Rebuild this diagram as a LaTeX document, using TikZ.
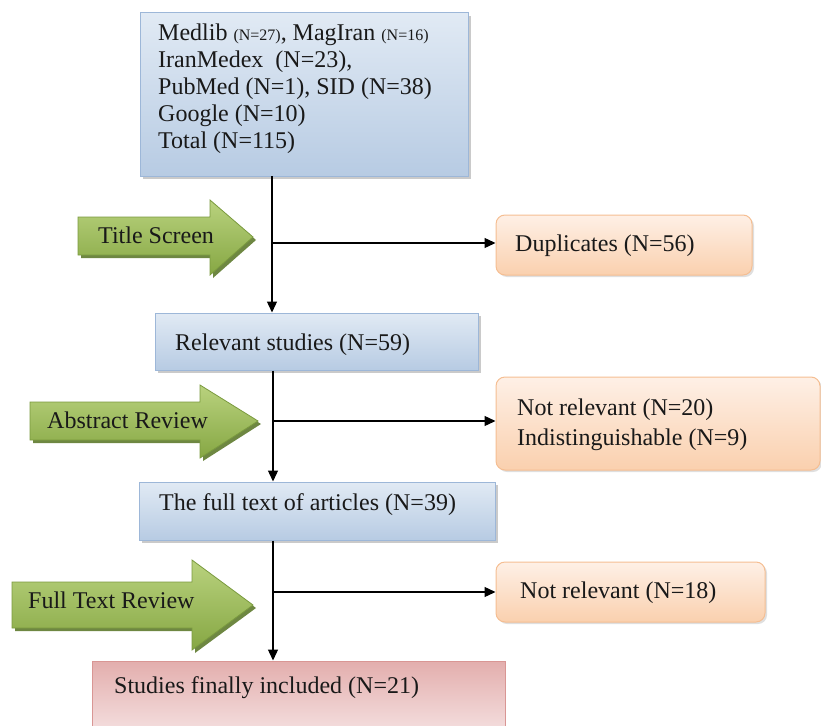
\documentclass[tikz,border=0pt]{standalone}
\usepackage{fontspec}
\setmainfont{Liberation Serif}
\usetikzlibrary{arrows.meta,shadows}
\definecolor{bluetop}{HTML}{E1EAF4}
\definecolor{bluebot}{HTML}{B7CBE3}
\definecolor{blueedge}{HTML}{9DB7D8}
\definecolor{orangetop}{HTML}{FEF0E6}
\definecolor{orangebot}{HTML}{FAD0AE}
\definecolor{orangeedge}{HTML}{F5BE92}
\definecolor{greentop}{HTML}{B9D27E}
\definecolor{greenbot}{HTML}{86A743}
\definecolor{greenedge}{HTML}{7A9A3E}
\definecolor{greenshadow}{HTML}{5E7A2E}
\definecolor{pinktop}{HTML}{E3AEAD}
\definecolor{pinkbot}{HTML}{F5E1E1}
\definecolor{pinkedge}{HTML}{D99694}
\tikzset{
  bluebox/.style={draw=blueedge, line width=1pt, top color=bluetop, bottom color=bluebot,
    drop shadow={shadow xshift=3pt, shadow yshift=-3pt, fill=black!35, opacity=0.6}},
  orangebox/.style={draw=orangeedge, line width=1pt, rounded corners=9pt, top color=orangetop, bottom color=orangebot,
    drop shadow={shadow xshift=2pt, shadow yshift=-2pt, fill=black!25, opacity=0.5}},
  pinkbox/.style={draw=pinkedge, line width=1pt, top color=pinktop, bottom color=pinkbot},
  greenarrow/.style={draw=greenedge, line width=0.8pt, top color=greentop, bottom color=greenbot,
    drop shadow={shadow xshift=3pt, shadow yshift=-3pt, fill=greenshadow, opacity=0.9}},
  txt/.style={inner sep=0pt, font=\fontsize{24}{27}\selectfont, text=black!90},
  conn/.style={draw=black, line width=1.3pt, -{Triangle[length=11pt,width=10pt]}},
  plainline/.style={draw=black, line width=1.3pt},
}
\begin{document}
\begin{tikzpicture}[x=1pt,y=-1pt]
\useasboundingbox (0,0) rectangle (821,725);
% boxes
\path[bluebox] (140,13) rectangle (468,176);
\node[inner sep=0pt, minimum width=328pt, minimum height=163pt] (top) at (304,94.5) {};
\node[txt, anchor=north west, align=left] (toptext) at (158,23.5)
  {Medlib {\fontsize{16}{27}\selectfont (N=27)}, MagIran {\fontsize{16}{27}\selectfont (N=16)}\\
   IranMedex\ \ (N=23),\\
   PubMed (N=1), SID (N=38)\\
   Google (N=10)\\
   Total (N=115)};

\node[orangebox, inner sep=0pt, minimum width=256pt, minimum height=60pt] (dup) at (624,245) {};
\node[txt, anchor=base west] (duptext) at (515,251) {Duplicates (N=56)};

\node[bluebox, inner sep=0pt, minimum width=323pt, minimum height=57pt] (rel) at (316.5,341.5) {};
\node[txt, anchor=base west] (reltext) at (175,350) {Relevant studies (N=59)};

\node[orangebox, inner sep=0pt, minimum width=324pt, minimum height=93pt] (nr) at (658,423.5) {};
\node[txt, anchor=north west, align=left, font=\fontsize{24}{30}\selectfont] (nrtext) at (517,398.5)
  {Not relevant (N=20)\\Indistinguishable (N=9)};

\node[bluebox, inner sep=0pt, minimum width=356pt, minimum height=58pt] (full) at (317,511) {};
\node[txt, anchor=base west] (fulltext) at (159,510) {The full text of articles (N=39)};

\node[orangebox, inner sep=0pt, minimum width=269pt, minimum height=60pt] (nrb) at (630.5,592) {};
\node[txt, anchor=base west] (nrbtext) at (520,598) {Not relevant (N=18)};

\node[pinkbox, inner sep=0pt, minimum width=413pt, minimum height=74pt] (fin) at (298.5,698) {};
\node[txt, anchor=base west] (fintext) at (114,693) {Studies finally included (N=21)};

% green arrows
\path[greenarrow] (78,217) -- (210,217) -- (210,200) -- (253,237) -- (210,275) -- (210,255) -- (78,255) -- cycle;
\node[txt, anchor=base west] (a1) at (98,243) {Title Screen};
\path[greenarrow] (30,402) -- (200,402) -- (200,385) -- (258,421) -- (200,458) -- (200,440) -- (30,440) -- cycle;
\node[txt, anchor=base west] (a2) at (47,428) {Abstract Review};
\path[greenarrow] (12,582) -- (192,582) -- (192,560) -- (253,605) -- (192,650) -- (192,628) -- (12,628) -- cycle;
\node[txt, anchor=base west] (a3) at (28,608) {Full Text Review};

% connectors
\coordinate (s) at (272,0);
\coordinate (b1) at (272,243);
\coordinate (b2) at (273,421);
\coordinate (b3) at (273,592);
\draw[conn] (top.south -| s) -- (rel.north -| s);
\draw[plainline] (b1) -- ++(0,0);
\draw[conn] (b1) -- (b1 -| dup.west);
\draw[conn] (rel.south -| b2) -- (full.north -| b2);
\draw[conn] (b2) -- (b2 -| nr.west);
\draw[conn] (full.south -| b3) -- (fin.north -| b3);
\draw[conn] (b3) -- (b3 -| nrb.west);
\end{tikzpicture}
\end{document}
